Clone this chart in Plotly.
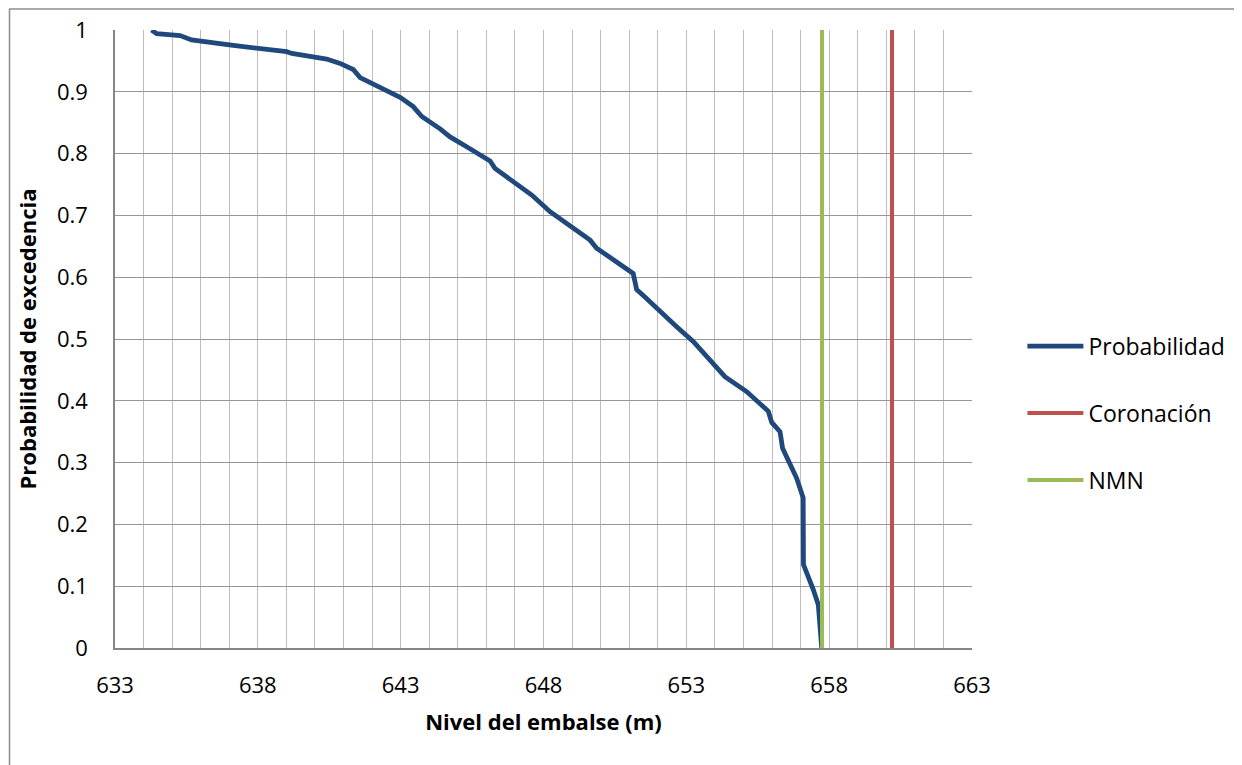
import plotly.graph_objects as go

# Data
nivel = [634.28, 634.46, 635.28, 635.68, 637.14, 639.01, 639.19, 640.41, 640.88, 641.34,
         641.58, 642.39, 642.98, 643.44, 643.74, 644.38, 644.73, 645.31, 646.13, 646.30,
         646.94, 647.59, 648.23, 648.93, 649.63, 649.86, 650.44, 650.68, 651.14, 651.20,
         651.26, 651.55, 652.02, 652.66, 653.24, 653.83, 654.35, 655.11, 655.52, 655.87,
         655.99, 656.28, 656.37, 656.63, 656.86, 657.09, 657.10, 657.44, 657.62, 657.74]
probabilidad = [1.000, 0.994, 0.991, 0.984, 0.975, 0.965, 0.962, 0.953, 0.946, 0.936,
                0.923, 0.905, 0.891, 0.876, 0.860, 0.840, 0.827, 0.811, 0.788, 0.776,
                0.754, 0.733, 0.706, 0.684, 0.660, 0.647, 0.628, 0.620, 0.606, 0.593,
                0.580, 0.568, 0.547, 0.520, 0.496, 0.466, 0.439, 0.415, 0.399, 0.383,
                0.365, 0.350, 0.323, 0.299, 0.275, 0.243, 0.135, 0.095, 0.070, 0.000]
coronacion = 660.2
nmn = 657.75
x_ticks = [633, 638, 643, 648, 653, 658, 663]
y_ticks = [0, 0.1, 0.2, 0.3, 0.4, 0.5, 0.6, 0.7, 0.8, 0.9, 1]

FONT = "Open Sans"

# page is offset ~8px by the browser body margin; compensate in the margins
L, T, PW, PH = 107, 21.5, 857, 619
W, H = 1242, 765
R = W - L - PW
B = H - T - PH


def px_x(p):  # figure pixel -> paper x
    return (p - L) / PW


def px_y(p):  # figure pixel -> paper y
    return (T + PH - p) / PH


fig = go.Figure()
fig.add_trace(go.Scatter(x=nivel, y=probabilidad, mode="lines", name="Probabilidad",
                         legendgroup="a",
                         line=dict(color="#1F497D", width=4.8)))
fig.add_trace(go.Scatter(x=[coronacion, coronacion], y=[0, 1], mode="lines", name="Coronación",
                         legendgroup="b",
                         line=dict(color="#C0504D", width=4)))
fig.add_trace(go.Scatter(x=[nmn, nmn], y=[0, 1], mode="lines", name="NMN",
                         legendgroup="c",
                         line=dict(color="#9BBB59", width=4)))

fig.update_layout(
    width=W, height=H,
    margin=dict(l=L, r=R, t=T, b=B, autoexpand=False),
    paper_bgcolor="white", plot_bgcolor="white",
    font=dict(family=FONT, size=22, color="black"),
    showlegend=True,
    legend=dict(x=1.0588, y=0.38, xanchor="left", yanchor="middle",
                font=dict(family=FONT, size=23, color="black"),
                tracegroupgap=34, itemwidth=56, traceorder="grouped"),
    shapes=[
        dict(type="line", xref="paper", yref="paper",
             x0=px_x(1), x1=px_x(1300), y0=px_y(0.5), y1=px_y(0.5),
             line=dict(color="#8C8C8C", width=1.5)),
        dict(type="line", xref="paper", yref="paper",
             x0=px_x(1.5), x1=px_x(1.5), y0=px_y(0.5), y1=px_y(800),
             line=dict(color="#8C8C8C", width=1.5)),
    ],
)
fig.update_xaxes(
    range=[633, 663], tickvals=x_ticks, ticktext=[str(v) for v in x_ticks],
    automargin=False,
    showgrid=True, gridcolor="#BDBDBD", gridwidth=1.3,
    minor=dict(dtick=1, showgrid=True, gridcolor="#BDBDBD", gridwidth=1.3),
    showline=True, linecolor="#868686", linewidth=1.5,
    ticks="", ticklabelstandoff=17,
    title=dict(text="<b>Nivel del embalse (m)</b>", font=dict(family=FONT, size=22), standoff=16),
    zeroline=False, tickfont=dict(size=22),
)
fig.update_yaxes(
    range=[0, 1], tickvals=y_ticks, ticktext=[f"{v:g}" for v in y_ticks],
    automargin=False,
    showgrid=True, gridcolor="#969696", gridwidth=1.3,
    showline=True, linecolor="#868686", linewidth=1.5,
    ticks="", ticklabelstandoff=21,
    title=dict(text="<b>Probabilidad de excedencia</b>", font=dict(family=FONT, size=22), standoff=14),
    zeroline=False, tickfont=dict(size=22),
)

fig.write_html("out.html")
